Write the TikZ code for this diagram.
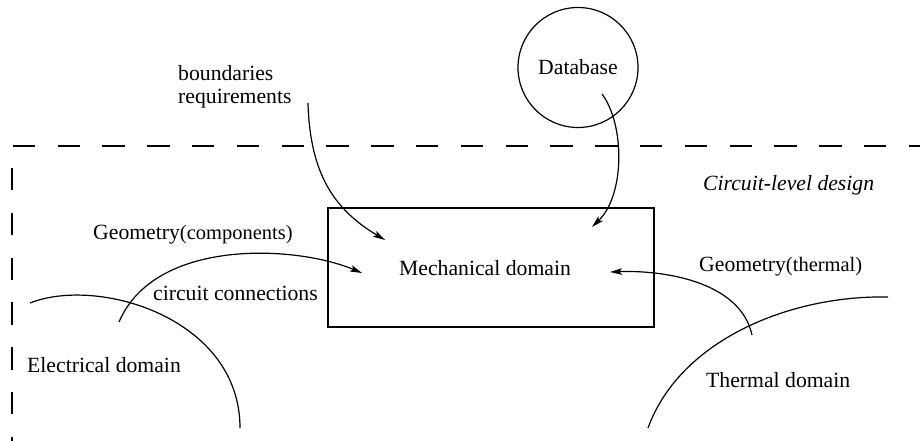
\documentclass[tikz,border=0pt]{standalone}
\usepackage{fontspec}
\setmainfont{Liberation Serif}
\usetikzlibrary{arrows.meta}
\newcommand\smallpart{\fontsize{20.5}{22}\selectfont}
\begin{document}
\begin{tikzpicture}[x=1pt,y=-1pt,
  txt/.style={inner sep=0pt,font=\fontsize{21.7}{23}\selectfont},
  curve/.style={line width=1.2pt},
  flow/.style={line width=1.2pt,-{Stealth[length=12pt,width=6.5pt,inset=2.5pt]}},
  border/.style={line width=1.4pt,dash pattern=on 22.4pt off 22.4pt}]
\useasboundingbox (0,0) rectangle (920,441);

% design boundary (dashed)
\coordinate (bndL) at (12.7,146);
\coordinate (bndR) at (920,146);
\coordinate (bndT) at (12,168);
\coordinate (bndB) at (12,441);
\draw[border] (bndL) -- (bndR);
\draw[border] (bndT) -- (bndB);

% main blocks
\node[draw,line width=1.3pt,minimum width=326pt,minimum height=119pt,inner sep=0pt] (mech) at (491,267.5) {};
\node[txt] (mechlabel) at (485,268) {Mechanical domain};
\node[draw,circle,line width=1.2pt,minimum size=120pt,inner sep=0pt,txt] (db) at (578,67.5) {Database};

% labels
\node[txt,align=left,anchor=west] (breq) at (178,86.5) {boundaries\\requirements};
\node[txt,anchor=west] (cld) at (703,185) {\itshape Circuit-level design};
\node[txt,anchor=west] (geoc) at (93,235) {Geometry{\smallpart(components)}};
\node[txt,anchor=west] (cconn) at (153,293) {circuit connections};
\node[txt,anchor=west] (elec) at (27,365) {Electrical domain};
\node[txt,anchor=west] (geot) at (699,267) {Geometry{\smallpart(thermal)}};
\node[txt,anchor=west] (therm) at (706,380) {Thermal domain};

% connector end points
\coordinate (breqS) at (308,103);
\coordinate (breqE) at (385,240);
\coordinate (dbS) at (602,94);
\coordinate (dbE) at (592,227);
\coordinate (elecS) at (119,322);
\coordinate (elecE) at (362,273);
\coordinate (thermS) at (752,335);
\coordinate (thermE) at (610,272);

% domain outlines
\coordinate (eA) at (30,303);
\coordinate (eB) at (240,428);
\coordinate (tA) at (648,428);
\coordinate (tB) at (888,297);
\draw[curve] (eA) .. controls (98,276) and (240,318) .. (eB);
\draw[curve] (tA) .. controls (680,340) and (790,295) .. (tB);

% flows into the mechanical domain
\draw[flow] (breqS) .. controls (310,175) and (335,210) .. (breqE);
\draw[flow] (dbS) .. controls (625,125) and (625,195) .. (dbE);
\draw[flow] (elecS) .. controls (155,238) and (295,245) .. (elecE);
\draw[flow] (thermS) .. controls (740,280) and (660,270) .. (thermE);
\end{tikzpicture}
\end{document}
